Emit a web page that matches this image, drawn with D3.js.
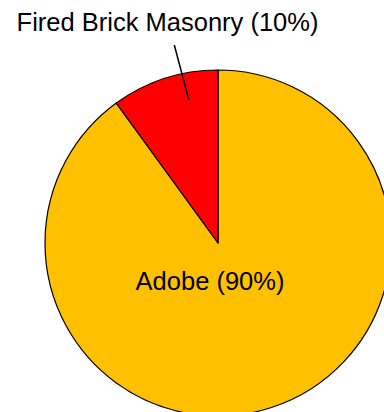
<!DOCTYPE html>
<html>
<head>
<meta charset="utf-8">
<script src="https://cdn.jsdelivr.net/npm/d3@7"></script>
<style>
html,body{margin:0;padding:0;background:#fff;overflow:hidden;}
svg{display:block;}
</style>
</head>
<body>
<svg id="chart" width="384" height="412"></svg>
<script>
const categories = ["Adobe", "Fired Brick Masonry"];
const values = [90, 10];
const colors = ["#FFC000", "#FF0000"];

const svg = d3.select("#chart");
const cx = 218, cy = 243, r = 173;
const g = svg.append("g").attr("transform", `translate(${cx},${cy})`);

const data = categories.map((c, i) => ({name: c, value: values[i], color: colors[i]}));
const pie = d3.pie().value(d => d.value).sort(null);
const arcs = pie(data);
const arc = d3.arc().innerRadius(0).outerRadius(r);

g.selectAll("path").data(arcs).enter().append("path")
  .attr("d", arc)
  .attr("fill", d => d.data.color)
  .attr("stroke", "#000")
  .attr("stroke-width", 1.2)
  .attr("stroke-linejoin", "round");

const fmt = d => `${d.data.name} (${d.data.value}%)`;
const font = "'Liberation Sans', Arial, sans-serif";
const fs = 25.5;

// Adobe label inside
g.append("text")
  .attr("x", -8).attr("y", 47)
  .attr("text-anchor", "middle")
  .attr("font-family", font).attr("font-size", fs)
  .attr("fill", "#000")
  .text(fmt(arcs[0]));

// Fired Brick label outside with leader
const a1 = arcs[1];
const ang = a1.startAngle + 0.68 * (a1.endAngle - a1.startAngle);
const inner = [Math.sin(ang) * r * 0.845, -Math.cos(ang) * r * 0.845];
g.append("line")
  .attr("x1", inner[0]).attr("y1", inner[1])
  .attr("x2", 174.3 - cx).attr("y2", 45 - cy)
  .attr("stroke", "#000").attr("stroke-width", 1.5);
g.append("text")
  .attr("x", 167.5 - cx).attr("y", 31 - cy)
  .attr("text-anchor", "middle")
  .attr("font-family", font).attr("font-size", fs)
  .attr("fill", "#000")
  .text(fmt(a1));
</script>
</body>
</html>
